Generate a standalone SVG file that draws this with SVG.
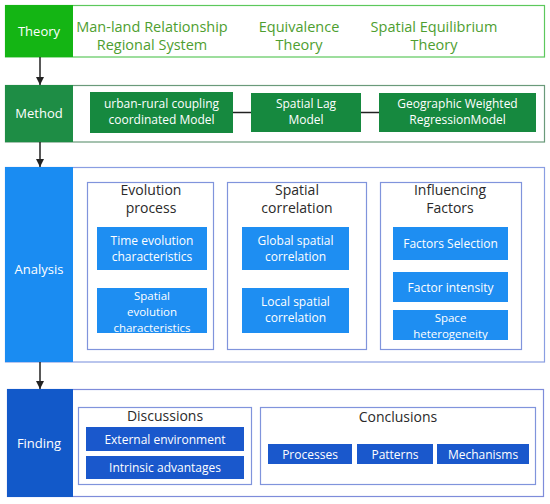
<svg xmlns="http://www.w3.org/2000/svg" width="550" height="504" viewBox="0 0 550 504">
<defs>
<style>
text{font-family:"Open Sans","Noto Sans","Liberation Sans",sans-serif;text-anchor:middle}
.w{fill:#ffffff;font-size:12px}
.ws{fill:#ffffff;font-size:11.5px}
.lab{fill:#ffffff;font-size:13px}
.th{fill:#4e9e30;font-size:14.5px}
.ti{fill:#2a2a2a;font-size:14px}
.gbox{fill:#16893f}
.bbox{fill:#1e8ef2}
.dbox{fill:#1a58cc}
.frame{fill:none;stroke:#8094dc;stroke-width:1.2}
.conn{stroke:#222;stroke-width:1.5;fill:none}
</style>
<marker id="ah" markerWidth="10" markerHeight="10" refX="9" refY="5" orient="auto" markerUnits="userSpaceOnUse">
<path d="M1,1 L9,5 L1,9 Z" fill="#222"/>
</marker>
</defs>
<rect x="0" y="0" width="550" height="504" fill="#ffffff"/>

<g id="theory">
<rect x="5.5" y="5.5" width="539" height="51.5" fill="#ffffff" stroke="#5cc85c" stroke-width="1.2"/>
<rect x="5" y="5" width="68" height="52" fill="#14b514"/>
<text class="lab" x="39" y="36" fill="#e6ffe6">Theory</text>
<text class="th" x="152" y="32">Man-land Relationship</text>
<text class="th" x="152" y="49.5">Regional System</text>
<text class="th" x="299" y="32">Equivalence</text>
<text class="th" x="299" y="49.5">Theory</text>
<text class="th" x="434" y="32">Spatial Equilibrium</text>
<text class="th" x="434" y="49.5">Theory</text>
</g>

<g id="method">
<rect x="5.5" y="85.5" width="539" height="56.5" fill="#ffffff" stroke="#6a9a7a" stroke-width="1.2"/>
<rect x="5" y="85" width="68" height="57" fill="#1e8d45"/>
<text class="lab" x="39" y="118">Method</text>
<g id="m1"><rect class="gbox" x="90" y="92" width="143" height="41"/>
<text class="w" x="161.5" y="108">urban-rural coupling</text>
<text class="w" x="161.5" y="124">coordinated Model</text></g>
<g id="m2"><rect class="gbox" x="251" y="93" width="110" height="39"/>
<text class="w" x="306" y="108">Spatial Lag</text>
<text class="w" x="306" y="124">Model</text></g>
<g id="m3"><rect class="gbox" x="379" y="93" width="157" height="39"/>
<text class="w" x="457.5" y="108">Geographic Weighted</text>
<text class="w" x="457.5" y="124">RegressionModel</text></g>
</g>

<g id="analysis">
<rect x="5.5" y="167.5" width="539" height="194.5" fill="#ffffff" stroke="#8a9ee2" stroke-width="1.2"/>
<rect x="5" y="167" width="68" height="195" fill="#1a8cf2"/>
<text class="lab" x="39" y="274">Analysis</text>
<g id="evolution">
<rect class="frame" x="87.5" y="182.5" width="126" height="167"/>
<text class="ti" x="151" y="194.5">Evolution</text>
<text class="ti" x="151" y="212.5">process</text>
<rect class="bbox" x="97" y="227" width="110" height="43"/>
<text class="w" x="152" y="244.5">Time evolution</text>
<text class="w" x="152" y="260.5">characteristics</text>
<rect class="bbox" x="97" y="288" width="110" height="45"/>
<text class="ws" x="152" y="300">Spatial</text>
<text class="ws" x="152" y="316">evolution</text>
<text class="ws" x="152" y="332">characteristics</text>
</g>
<g id="spatial">
<rect class="frame" x="227.5" y="182.5" width="139" height="167"/>
<text class="ti" x="297" y="194.5">Spatial</text>
<text class="ti" x="297" y="212.5">correlation</text>
<rect class="bbox" x="242" y="227" width="107" height="43"/>
<text class="w" x="295.5" y="244.5">Global spatial</text>
<text class="w" x="295.5" y="260.5">correlation</text>
<rect class="bbox" x="242" y="288" width="107" height="45"/>
<text class="w" x="295.5" y="305.5">Local spatial</text>
<text class="w" x="295.5" y="321.5">correlation</text>
</g>
<g id="factors">
<rect class="frame" x="380.5" y="182.5" width="141" height="167"/>
<text class="ti" x="450" y="194.5">Influencing</text>
<text class="ti" x="450" y="212.5">Factors</text>
<rect class="bbox" x="393" y="227" width="115" height="33"/>
<text class="w" x="450.5" y="248">Factors Selection</text>
<rect class="bbox" x="393" y="272" width="115" height="30"/>
<text class="w" x="450.5" y="292">Factor intensity</text>
<rect class="bbox" x="393" y="310" width="115" height="30"/>
<text class="ws" x="450.5" y="322">Space</text>
<text class="ws" x="450.5" y="338">heterogeneity</text>
</g>
</g>

<g id="finding">
<rect x="7.5" y="389.5" width="536" height="107" fill="#ffffff" stroke="#7e8cda" stroke-width="1.2"/>
<rect x="7" y="389" width="66" height="108" fill="#1259c9"/>
<text class="lab" x="39" y="448">Finding</text>
<g id="discussions">
<rect class="frame" x="78.5" y="407.5" width="173" height="77"/>
<text class="ti" x="165" y="421">Discussions</text>
<rect class="dbox" x="86" y="427" width="158" height="24"/>
<text class="w" x="165" y="443.5">External environment</text>
<rect class="dbox" x="86" y="456" width="158" height="23"/>
<text class="w" x="165" y="472">Intrinsic advantages</text>
</g>
<g id="conclusions">
<rect class="frame" x="260.5" y="407.5" width="275" height="77"/>
<text class="ti" x="398" y="422">Conclusions</text>
<rect class="dbox" x="268" y="444" width="84" height="20"/>
<text class="w" x="310" y="458.5">Processes</text>
<rect class="dbox" x="357" y="444" width="76" height="20"/>
<text class="w" x="395" y="458.5">Patterns</text>
<rect class="dbox" x="437" y="444" width="92" height="20"/>
<text class="w" x="483" y="458.5">Mechanisms</text>
</g>
</g>

<g id="connectors">
<line class="conn" x1="40" y1="57" x2="40" y2="85" marker-end="url(#ah)"/>
<line class="conn" x1="40" y1="142" x2="40" y2="167" marker-end="url(#ah)"/>
<line class="conn" x1="40" y1="362" x2="40" y2="389" marker-end="url(#ah)"/>
<line class="conn" x1="233" y1="112.5" x2="251" y2="112.5"/>
<line class="conn" x1="361" y1="112.5" x2="379" y2="112.5"/>
</g>
</svg>
